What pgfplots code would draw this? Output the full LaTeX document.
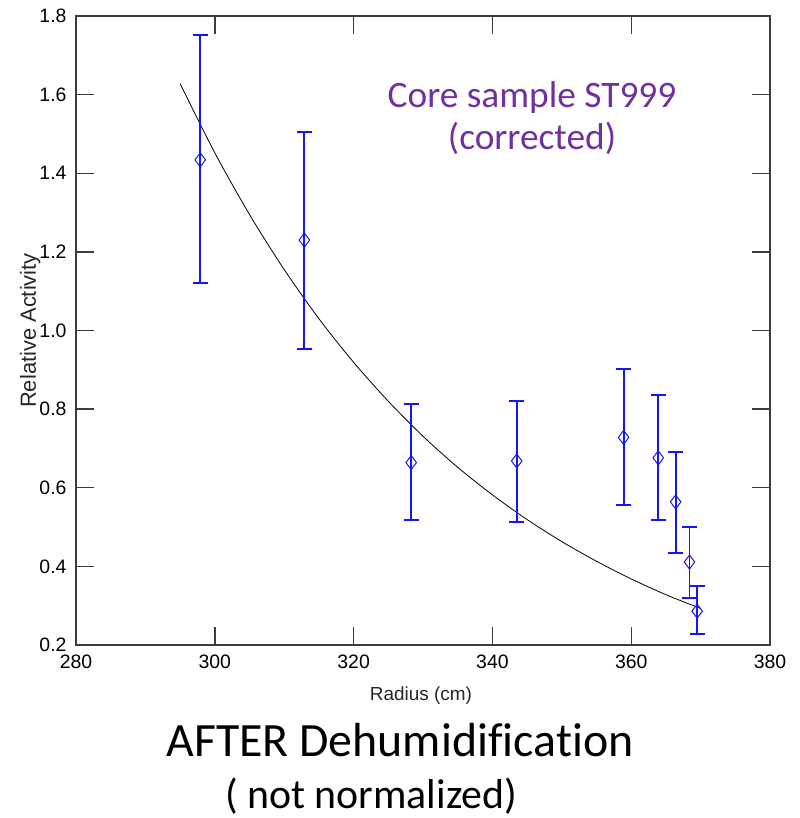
\documentclass[border=0pt]{standalone}
\usepackage{pgfplots}
\pgfplotsset{compat=1.18}
\usepackage{pgfplotstable}
\usepackage{fontspec}
\setmainfont{Liberation Sans}
\newfontfamily\calibri[Ligatures=NoCommon]{Carlito}
\definecolor{officepurple}{RGB}{112,48,160}
\definecolor{axisgray}{RGB}{60,60,60}
\definecolor{barblue}{RGB}{20,20,255}

% radius, activity, err+, err-
\pgfplotstableread{
x      y      ep     em
297.9  1.434  0.318  0.313
312.9  1.230  0.276  0.277
328.3  0.664  0.148  0.147
343.5  0.668  0.152  0.156
358.9  0.728  0.173  0.172
363.9  0.676  0.161  0.159
366.4  0.564  0.128  0.129
368.4  0.411  0.089  0.091
369.5  0.286  0.064  0.059
}\datatable

% fitted curve
\pgfplotstableread{
x     y
295   1.628
300   1.452
305   1.295
310   1.155
315   1.030
320   0.919
325   0.820
330   0.731
335   0.652
340   0.582
345   0.519
350   0.463
355   0.413
360   0.368
365   0.328
370   0.293
}\fittable

\begin{document}
\begin{tikzpicture}[x=1bp,y=1bp]
\path[use as bounding box] (0,0) rectangle (800,818);
\begin{axis}[
  at={(76bp,173bp)}, anchor=south west,
  width=694bp, height=629bp, scale only axis,
  xmin=280, xmax=380, ymin=0.2, ymax=1.8,
  xtick={280,300,...,380},
  ytick={0.2,0.4,...,1.8},
  yticklabel style={/pgf/number format/fixed, /pgf/number format/fixed zerofill,
    /pgf/number format/precision=1, xshift=-6bp},
  xticklabel style={yshift=-6bp},
  /pgf/number format/assume math mode=true,
  tick label style={font=\fontsize{19.5}{19.5}\selectfont, text=black},
  tick align=inside,
  major tick length=18bp,
  tick style={axisgray, line width=1.4bp},
  axis line style={axisgray, line width=1.6bp},
  xtick pos=both, ytick pos=both,
  xticklabel pos=lower, yticklabel pos=left,
  xlabel={Radius (cm)},
  ylabel={Relative Activity},
  xlabel style={font=\fontsize{19}{19}\selectfont, text=black!85,
    at={(axis description cs:0.497,0)}, anchor=base, yshift=-56bp},
  ylabel style={font=\fontsize{22}{22}\selectfont, text=black!85,
    at={(axis description cs:-0.066,0.5)}, anchor=center},
  clip=false,
]
\addplot[black, line width=0.8bp, smooth] table[x=x,y=y] {\fittable};
\addplot[only marks, barblue, mark=diamond, mark size=7bp,
  mark options={line width=1bp, draw=barblue},
  error bars/.cd, y dir=both, y explicit,
  error bar style={draw=barblue, line width=1.9bp},
  error mark options={draw=barblue, rotate=90, mark size=7.5bp, line width=1.9bp}]
  table[x=x, y=y, y error plus=ep, y error minus=em] {\datatable};
\end{axis}
\node[font=\calibri\fontsize{37.5}{43}\selectfont, text=officepurple, align=center, anchor=base]
  at (532,668) {Core sample ST999\\(corrected)};
\node[font=\calibri\fontsize{48}{48}\selectfont, anchor=base] at (400,61) {AFTER Dehumidification};
\node[font=\calibri\fontsize{42}{42}\selectfont, anchor=base west, inner sep=0pt] at (225,9) {( not normalized)};
\end{tikzpicture}
\end{document}
